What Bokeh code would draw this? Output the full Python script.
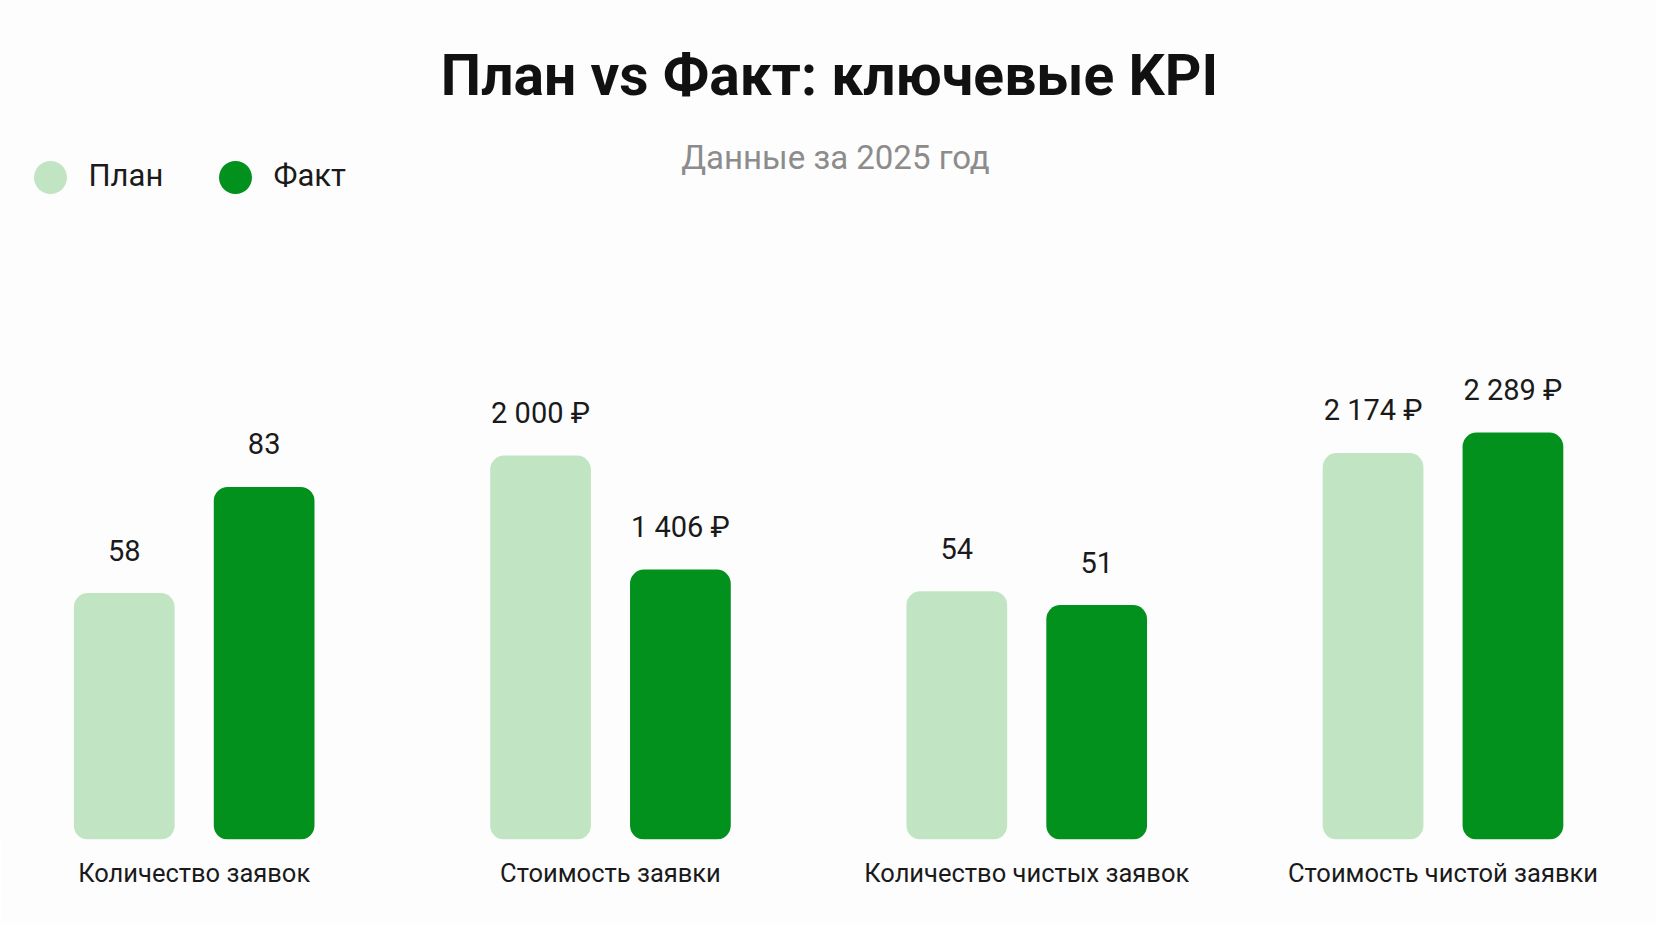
from bokeh.plotting import figure
from bokeh.models import Range1d, ColumnDataSource, FixedTicker
from bokeh.embed import file_html
from bokeh.resources import INLINE
from bokeh.core.properties import value

# ---------------- data ----------------
categories = ["Количество заявок", "Стоимость заявки",
              "Количество чистых заявок", "Стоимость чистой заявки"]
plan_values = [58, 2000, 54, 2174]
fact_values = [83, 1406, 51, 2289]
value_suffix = ["", " ₽", "", " ₽"]
series_names = ["План", "Факт"]
title_text = "План vs Факт: ключевые KPI"
subtitle_text = "Данные за 2025 год"
# every KPI is drawn on its own vertical scale (top value of that scale)
group_axis_max = [197.5, 4371, 182.5, 4720]

# ---------------- style ----------------
PLAN_COLOR = "#C1E5C3"
FACT_COLOR = "#03911E"
BG = "#FDFDFD"
TXT = "#1A1A1A"
FONT = "Roboto"

W, H = 1656, 924
FRAME_H = 839
BOTTOM = H - FRAME_H
GROUP_STEP = 416.27          # px between KPI groups
FIRST_GROUP_PX = 193.7       # px position of first group centre


def fmt(v, suffix):
    return f"{v:,}".replace(",", " ") + suffix


x_start = -FIRST_GROUP_PX / GROUP_STEP
p = figure(width=W, height=H, output_backend="svg", toolbar_location=None,
           x_range=Range1d(x_start, x_start + W / GROUP_STEP),
           y_range=Range1d(0, FRAME_H),
           y_axis_location=None,
           min_border_left=0, min_border_right=0, min_border_top=0,
           min_border_bottom=BOTTOM,
           background_fill_color=BG, border_fill_color=BG,
           outline_line_color=None)
p.grid.visible = False
p.extra_x_ranges = {"px": Range1d(0, W)}
p.extra_y_ranges = {f"g{g}": Range1d(0, group_axis_max[g]) for g in range(len(categories))}

# x axis with category names
ax = p.xaxis[0]
ax.ticker = FixedTicker(ticks=list(range(len(categories))))
ax.major_label_overrides = {i: c for i, c in enumerate(categories)}
ax.axis_line_color = None
ax.major_tick_line_color = None
ax.minor_tick_line_color = None
ax.major_label_text_font = FONT
ax.major_label_text_font_size = "25.5px"
ax.major_label_text_color = TXT
ax.major_label_standoff = 12

offset = 0.168
bar_w = 0.242
for g in range(len(categories)):
    src = ColumnDataSource(dict(
        x=[g - offset, g + offset],
        top=[plan_values[g], fact_values[g]],
        color=[PLAN_COLOR, FACT_COLOR],
        label=[fmt(plan_values[g], value_suffix[g]), fmt(fact_values[g], value_suffix[g])],
    ))
    p.vbar(x="x", top="top", bottom=0, width=bar_w, fill_color="color",
           line_color=None, border_radius=14, y_range_name=f"g{g}", source=src)
    p.text(x="x", y="top", text="label", source=src, y_range_name=f"g{g}",
           text_align="center", text_baseline="alphabetic", y_offset=-43,
           text_font=value(FONT), text_font_size="29px", text_color=TXT)

# legend (manual)
p.scatter(x=[50, 235], y=[662, 662], size=33, fill_color=[PLAN_COLOR, FACT_COLOR],
          line_color=None, x_range_name="px")
p.text(x=[88, 273], y=[651, 651], text=series_names, x_range_name="px",
       text_align="left", text_baseline="alphabetic", y_offset=-13,
       text_font=value(FONT), text_font_size="31px", text_color=TXT)

# title and subtitle
p.text(x=[829], y=[742.6], text=[title_text], x_range_name="px",
       text_align="center", text_baseline="alphabetic", y_offset=-21,
       text_font=value(FONT), text_font_style="bold", text_font_size="57px",
       text_color="#111111")
p.text(x=[835], y=[671], text=[subtitle_text], x_range_name="px",
       text_align="center", text_baseline="alphabetic", y_offset=-11,
       text_font=value(FONT), text_font_size="33px", text_color="#8C8C8C")

open("out.html", "w").write(file_html(p, INLINE))
